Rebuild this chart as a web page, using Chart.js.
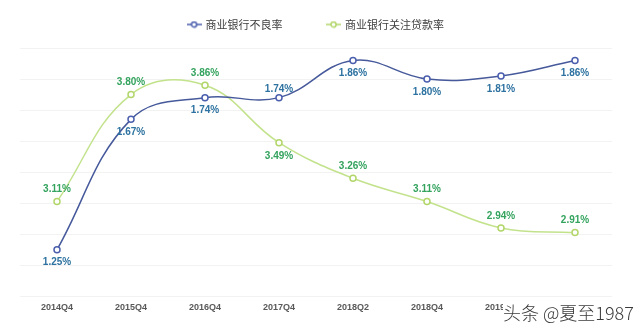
<!DOCTYPE html>
<html lang="zh">
<head>
<meta charset="UTF-8">
<title>商业银行不良率与关注贷款率</title>
<script src="https://cdn.jsdelivr.net/npm/chart.js"></script>
<style>
  body { margin: 0; background: #fff; }
  .wrap { position: relative; width: 640px; height: 330px; }
  .mark {
    position: absolute; left: 503px; top: 300px;
    font: 300 18px "Noto Sans CJK SC", sans-serif; color: #3a3a3a;
    line-height: 24px; background: #fff;
    white-space: nowrap;
  }
</style>
</head>
<body>
<div class="wrap">
  <canvas id="chart" width="640" height="330"></canvas>
  <div class="mark">头条 @夏至1987</div>
</div>
<script>
const quarters = ['2014Q4', '2015Q4', '2016Q4', '2017Q4', '2018Q2', '2018Q4', '2019Q1', '2019Q2'];
const nplRatio = [1.25, 1.67, 1.74, 1.74, 1.86, 1.80, 1.81, 1.86];
const specialMentionRatio = [3.11, 3.80, 3.86, 3.49, 3.26, 3.11, 2.94, 2.91];

// small "-o-" icon for the legend
function legendIcon(color) {
    const c = document.createElement('canvas');
    c.width = 15; c.height = 8;
    const g = c.getContext('2d');
    g.strokeStyle = color;
    g.lineWidth = 1.5;
    g.beginPath(); g.moveTo(0, 4); g.lineTo(15, 4); g.stroke();
    g.fillStyle = '#fff';
    g.beginPath(); g.arc(7.5, 4, 2.6, 0, Math.PI * 2); g.fill(); g.stroke();
    return c;
}
const icons = [legendIcon('#4b5fae'), legendIcon('#b2d66a')];

// value labels next to each point
const pointLabels = {
    id: 'pointLabels',
    afterDatasetsDraw(chart) {
        const ctx = chart.ctx;
        ctx.save();
        ctx.font = 'bold 10px "Liberation Sans", Arial, sans-serif';
        ctx.textAlign = 'center';
        ctx.textBaseline = 'middle';
        chart.data.datasets.forEach((ds, i) => {
            const meta = chart.getDatasetMeta(i);
            ctx.fillStyle = ds.labelColor;
            meta.data.forEach((pt, j) => {
                ctx.fillText(ds.data[j].toFixed(2) + '%', pt.x, pt.y + ds.labelOffset[j]);
            });
        });
        ctx.restore();
    }
};

// a bit more room under the legend
const legendGap = {
    id: 'legendGap',
    beforeLayout(chart) {
        const lg = chart.legend;
        if (lg && !lg._gapPatched) {
            const fit = lg.fit;
            lg.fit = function () { fit.call(this); this.height += 8; };
            lg._gapPatched = true;
        }
    }
};

new Chart(document.getElementById('chart'), {
    type: 'line',
    data: {
        labels: quarters,
        datasets: [
            {
                label: '商业银行不良率',
                data: nplRatio,
                yAxisID: 'y',
                borderColor: '#46599b',
                borderWidth: 1.5,
                pointRadius: 3,
                pointBorderWidth: 1.5,
                pointBorderColor: '#4b5fae',
                pointBackgroundColor: '#fff',
                tension: 0.4,
                labelColor: '#2d72a0',
                labelOffset: [13, 13, 13, -8, 13, 13, 13, 13]
            },
            {
                label: '商业银行关注贷款率',
                data: specialMentionRatio,
                yAxisID: 'y2',
                borderColor: '#c3e28c',
                borderWidth: 1.5,
                pointRadius: 3,
                pointBorderWidth: 1.5,
                pointBorderColor: '#b2d66a',
                pointBackgroundColor: '#fff',
                tension: 0.4,
                labelColor: '#34a35e',
                labelOffset: [-12, -12, -12, 14, -12, -12, -12, -12]
            }
        ]
    },
    options: {
        responsive: false,
        animation: false,
        layout: { padding: { top: -26, left: 20, right: 28, bottom: 11 } },
        plugins: {
            legend: {
                position: 'top',
                labels: {
                    usePointStyle: true,
                    pointStyleWidth: 12,
                    padding: 45,
                    color: '#404040',
                    font: { size: 11, family: '"Noto Sans CJK SC", sans-serif' },
                    generateLabels(chart) {
                        const items = Chart.defaults.plugins.legend.labels.generateLabels(chart);
                        items.forEach((it, i) => { it.pointStyle = icons[i]; });
                        return items;
                    }
                }
            },
            tooltip: { enabled: false }
        },
        scales: {
            x: {
                offset: true,
                grid: { display: false, drawTicks: false },
                border: { display: false },
                ticks: {
                    padding: 6,
                    maxRotation: 0,
                    autoSkip: false,
                    color: '#595959',
                    font: { size: 9, weight: 'bold', family: '"Liberation Sans", Arial, sans-serif' }
                }
            },
            y: {
                position: 'left',
                min: 1.1,
                max: 1.9,
                ticks: { display: false, stepSize: 0.1 },
                grid: { color: '#f2f2f2', drawTicks: false },
                border: { display: false }
            },
            y2: {
                position: 'right',
                display: false,
                min: 2.5,
                max: 4.1
            }
        }
    },
    plugins: [pointLabels, legendGap]
});
</script>
</body>
</html>
